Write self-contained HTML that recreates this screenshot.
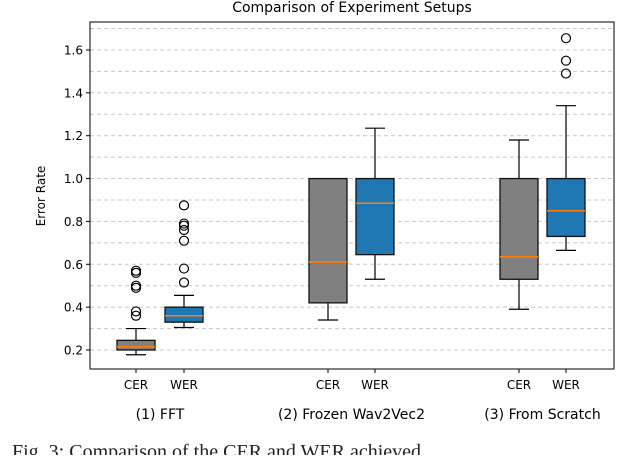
<!DOCTYPE html>
<html><head><meta charset="utf-8"><style>
body{margin:0;background:#fff;width:640px;height:455px;overflow:hidden}
text{font-family:"DejaVu Sans","Liberation Sans",sans-serif}
</style></head><body>
<svg width="640" height="455" viewBox="0 0 640 455" xmlns="http://www.w3.org/2000/svg">
<g id="grid"></g>
<g id="marks"></g>
<rect x="90" y="22" width="524" height="347" fill="none" stroke="#000" stroke-width="1"/>
<g id="axes"></g>
<text x="352" y="12" font-size="14" text-anchor="middle">Comparison of Experiment Setups</text>
<text transform="translate(45,196) rotate(-90)" font-size="12" text-anchor="middle">Error Rate</text>
<text x="12" y="458" font-size="20" style="font-family:'Liberation Serif',serif" fill="#222">Fig. 3:  Comparison of the CER and WER achieved</text>
</svg>
<script>
const categories=["CER","WER","CER","WER","CER","WER"];
const groupLabels=["(1) FFT","(2) Frozen Wav2Vec2","(3) From Scratch"];
const whiskerLow=[0.178,0.305,0.34,0.53,0.39,0.665];
const q1=[0.20,0.33,0.42,0.645,0.53,0.73];
const medians=[0.215,0.36,0.61,0.885,0.635,0.85];
const q3=[0.245,0.40,1.0,1.0,1.0,1.0];
const whiskerHigh=[0.30,0.455,1.0,1.235,1.18,1.34];
const outliers=[[0.36,0.38,0.49,0.50,0.56,0.57],[0.515,0.58,0.71,0.76,0.78,0.79,0.875],[],[],[],[1.49,1.55,1.655]];
const yTicks=[0.2,0.4,0.6,0.8,1.0,1.2,1.4,1.6];
const gridVals=[0.2,0.3,0.4,0.5,0.6,0.7,0.8,0.9,1.0,1.1,1.2,1.3,1.4,1.5,1.6,1.7];
const NS="http://www.w3.org/2000/svg";
const y=v=>350-(v-0.2)*214.3;
const xPos=i=>[136,184,328,375,519,566][i];
function mk(tag,attrs,parent){const e=document.createElementNS(NS,tag);for(const k in attrs)e.setAttribute(k,attrs[k]);parent.appendChild(e);return e;}
const grid=document.getElementById('grid'),marks=document.getElementById('marks'),axes=document.getElementById('axes');
gridVals.forEach(v=>{const l=mk('line',{x1:90,x2:614,y1:y(v),y2:y(v),stroke:'#c8c8c8','stroke-dasharray':'4,3','stroke-width':1},grid);

});
yTicks.forEach(v=>{const t=mk('line',{x1:86,x2:90,y1:y(v),y2:y(v),stroke:'#000'},axes);


const tx=mk('text',{x:83,y:y(v)+4.5,'font-size':12,'text-anchor':'end'},axes);tx.textContent=v.toFixed(1);

});
categories.forEach((c,i)=>{const x=xPos(i),w=38,fill=i%2?'#1f77b4':'#808080';
const g=mk('g',{},marks);


mk('line',{x1:x,x2:x,y1:y(whiskerLow[i]),y2:y(q1[i]),stroke:'#000','stroke-width':1.2},g);
mk('line',{x1:x,x2:x,y1:y(q3[i]),y2:y(whiskerHigh[i]),stroke:'#000','stroke-width':1.2},g);
mk('line',{x1:x-10,x2:x+10,y1:y(whiskerLow[i]),y2:y(whiskerLow[i]),stroke:'#000','stroke-width':1.2},g);
mk('line',{x1:x-10,x2:x+10,y1:y(whiskerHigh[i]),y2:y(whiskerHigh[i]),stroke:'#000','stroke-width':1.2},g);
mk('rect',{x:x-w/2,y:y(q3[i]),width:w,height:y(q1[i])-y(q3[i]),fill:fill,stroke:'#111','stroke-width':1.3},g);
mk('line',{x1:x-w/2,x2:x+w/2,y1:y(medians[i]),y2:y(medians[i]),stroke:'#ff7f0e','stroke-width':1.5},g);
outliers[i].forEach(o=>{const c2=mk('circle',{cx:x,cy:y(o),r:4.5,fill:'none',stroke:'#000','stroke-width':1.2},g);

});
const t=mk('line',{x1:x,x2:x,y1:369,y2:373,stroke:'#000'},axes);


const tx=mk('text',{x:x,y:389,'font-size':12,'text-anchor':'middle'},axes);tx.textContent=c;

});
groupLabels.forEach((g,k)=>{const tx=mk('text',{x:(xPos(2*k)+xPos(2*k+1))/2,y:419,'font-size':14,'text-anchor':'middle'},axes);tx.textContent=g;

});
</script>
</body></html>
